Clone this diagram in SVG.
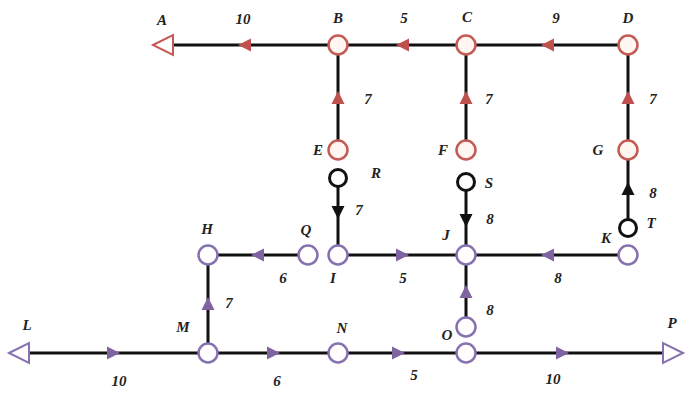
<svg xmlns="http://www.w3.org/2000/svg" xmlns:xlink="http://www.w3.org/1999/xlink" width="693" height="394" viewBox="0 0 693 394">
<style>
.e{stroke:#111;stroke-width:3;fill:none}
.nr{fill:#fff6f2;stroke:#c55a55;stroke-width:2.5}
.np{fill:#fff;stroke:#8672b0;stroke-width:2.5}
.nk{fill:#fff;stroke:#111;stroke-width:3}
.ar{fill:#c0504d}
.ap{fill:#8064a2}
.ak{fill:#111}
.t{font-family:"Liberation Serif",serif;font-style:italic;font-weight:bold;font-size:15px;fill:#222;text-anchor:middle}
.tr{fill:#fff;stroke:#c55a55;stroke-width:2}
.tp{fill:#fff;stroke:#8672b0;stroke-width:2}
</style>
<defs>
<path id="ah" d="M7,0 L-6,-6.5 L-6,6.5 Z"/>
</defs>
<rect width="693" height="394" fill="#fff"/>
<g id="connectors">
<path class="e" d="M172,45 H628 M338,45 V150 M466,45 V150 M628,45 V150"/>
<path class="e" d="M338,178 V255 M466,182 V255 M628,150 V228"/>
<path class="e" d="M208,255 H308 M338,255 H628 M466,255 V327 M208,255 V353"/>
<path class="e" d="M27,353 H663"/>
<use href="#ah" class="ar" transform="translate(245,45) rotate(180)"/>
<use href="#ah" class="ar" transform="translate(403,45) rotate(180)"/>
<use href="#ah" class="ar" transform="translate(548,45) rotate(180)"/>
<use href="#ah" class="ar" transform="translate(338,98) rotate(-90)"/>
<use href="#ah" class="ar" transform="translate(466,98) rotate(-90)"/>
<use href="#ah" class="ar" transform="translate(628,98) rotate(-90)"/>
<use href="#ah" class="ak" transform="translate(338,212) rotate(90)"/>
<use href="#ah" class="ak" transform="translate(466,220) rotate(90)"/>
<use href="#ah" class="ak" transform="translate(628,189) rotate(-90)"/>
<use href="#ah" class="ap" transform="translate(258,255) rotate(180)"/>
<use href="#ah" class="ap" transform="translate(402,255)"/>
<use href="#ah" class="ap" transform="translate(548,255) rotate(180)"/>
<use href="#ah" class="ap" transform="translate(466,292) rotate(-90)"/>
<use href="#ah" class="ap" transform="translate(208,304) rotate(-90)"/>
<use href="#ah" class="ap" transform="translate(113,353)"/>
<use href="#ah" class="ap" transform="translate(273,353)"/>
<use href="#ah" class="ap" transform="translate(398,353)"/>
<use href="#ah" class="ap" transform="translate(562,353)"/>
<text class="t" x="243" y="24">10</text>
<text class="t" x="404" y="23">5</text>
<text class="t" x="556" y="23">9</text>
<text class="t" x="368" y="104">7</text>
<text class="t" x="489" y="104">7</text>
<text class="t" x="653" y="104">7</text>
<text class="t" x="359" y="215">7</text>
<text class="t" x="490" y="224">8</text>
<text class="t" x="653" y="198">8</text>
<text class="t" x="283" y="283">6</text>
<text class="t" x="403" y="283">5</text>
<text class="t" x="558" y="283">8</text>
<text class="t" x="490" y="315">8</text>
<text class="t" x="229" y="308">7</text>
<text class="t" x="119" y="386">10</text>
<text class="t" x="277" y="386">6</text>
<text class="t" x="414" y="380">5</text>
<text class="t" x="553" y="384">10</text>
</g>
<g id="A"><polygon class="tr" points="153,45 173,35 173,55"/><text class="t" x="162" y="25">A</text></g>
<g id="B"><circle class="nr" cx="338" cy="45" r="9.5"/><text class="t" x="338" y="23">B</text></g>
<g id="C"><circle class="nr" cx="466" cy="45" r="9.5"/><text class="t" x="467" y="22">C</text></g>
<g id="D"><circle class="nr" cx="628" cy="45" r="9.5"/><text class="t" x="628" y="23">D</text></g>
<g id="E"><circle class="nr" cx="338" cy="150" r="9.5"/><text class="t" x="318" y="155">E</text></g>
<g id="F"><circle class="nr" cx="466" cy="150" r="9.5"/><text class="t" x="443" y="155">F</text></g>
<g id="G"><circle class="nr" cx="628" cy="150" r="9.5"/><text class="t" x="598" y="155">G</text></g>
<g id="R"><circle class="nk" cx="338" cy="178" r="8.5"/><text class="t" x="376" y="178">R</text></g>
<g id="S"><circle class="nk" cx="466" cy="182" r="8.5"/><text class="t" x="489" y="188">S</text></g>
<g id="T"><circle class="nk" cx="628" cy="228" r="8.5"/><text class="t" x="651" y="228">T</text></g>
<g id="H"><circle class="np" cx="208" cy="255" r="9.5"/><text class="t" x="207" y="234">H</text></g>
<g id="Q"><circle class="np" cx="308" cy="255" r="9.5"/><text class="t" x="306" y="235">Q</text></g>
<g id="I"><circle class="np" cx="338" cy="255" r="9.5"/><text class="t" x="333" y="283">I</text></g>
<g id="J"><circle class="np" cx="466" cy="255" r="9.5"/><text class="t" x="446" y="240">J</text></g>
<g id="K"><circle class="np" cx="628" cy="255" r="9.5"/><text class="t" x="606" y="243">K</text></g>
<g id="O1"><circle class="np" cx="466" cy="327" r="9.5"/><text class="t" x="447" y="340">O</text></g>
<g id="L"><polygon class="tp" points="9,353 29,343 29,363"/><text class="t" x="27" y="330">L</text></g>
<g id="M"><circle class="np" cx="208" cy="353" r="9.5"/><text class="t" x="183" y="332">M</text></g>
<g id="N"><circle class="np" cx="338" cy="353" r="9.5"/><text class="t" x="342" y="333">N</text></g>
<g id="O"><circle class="np" cx="466" cy="353" r="9.5"/></g>
<g id="P"><polygon class="tp" points="683,353 663,343 663,363"/><text class="t" x="672" y="328">P</text></g>
</svg>
